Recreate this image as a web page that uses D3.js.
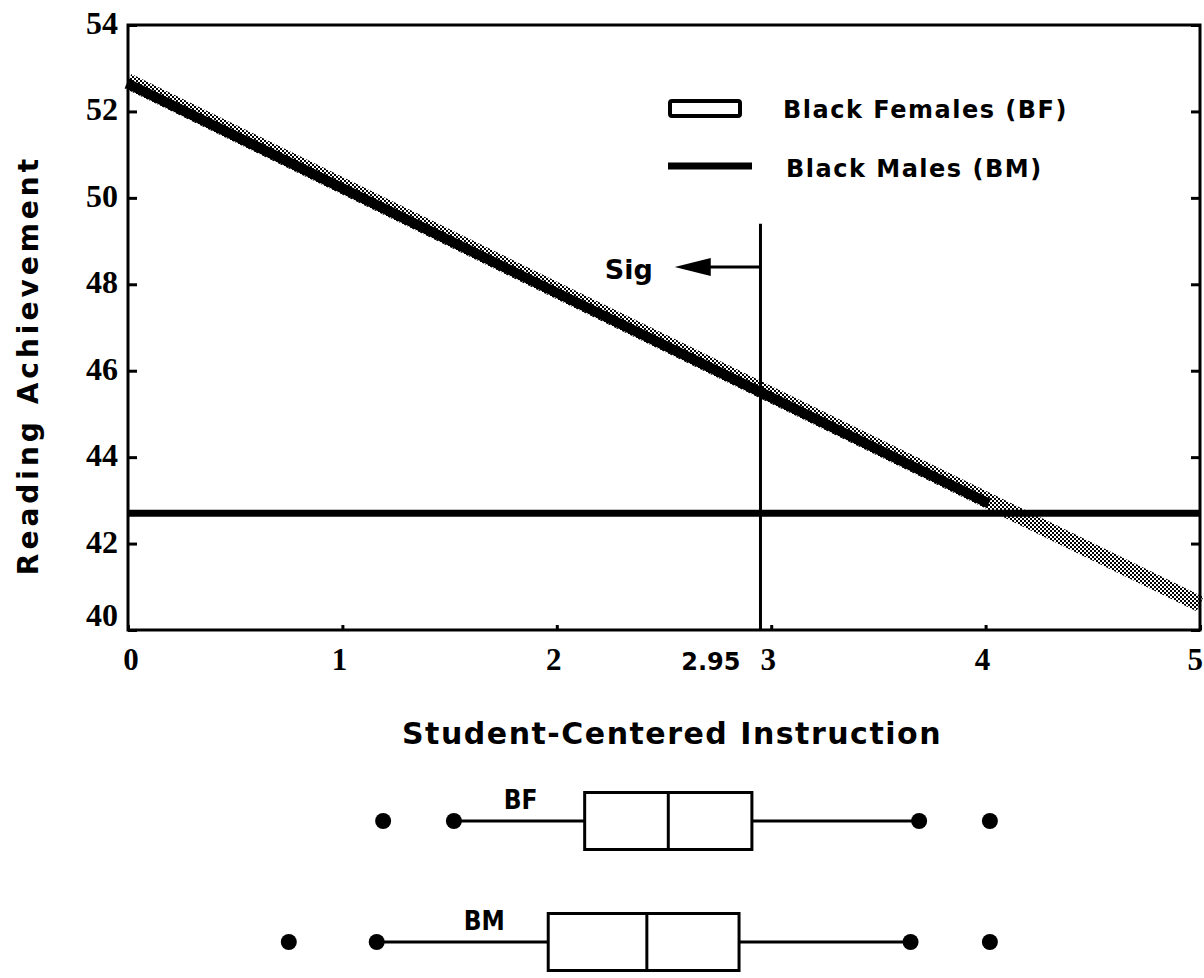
<!DOCTYPE html>
<html>
<head>
<meta charset="utf-8">
<script src="https://cdn.jsdelivr.net/npm/d3@7"></script>
<style>
  body { margin: 0; background: #fff; }
  svg { display: block; }
</style>
</head>
<body>
<script>
var xTicks = [0, 1, 2, 3, 4, 5];
var yTicks = [40, 42, 44, 46, 48, 50, 52, 54];
var bfLine = [{x: 0, y: 52.7}, {x: 5, y: 40.6}];
var bmLine = [{x: 0, y: 42.7}, {x: 5, y: 42.7}];
var sigX = 2.95,
    sigTop = 49.4,
    sigArrowY = 48.4,
    sigArrowTo = 2.55;

// box plots: outlierLo, whiskerLo, q1, median, q3, whiskerHi, outlierHi
var groups = ["BF", "BM"];
var boxStats = [
  [1.19, 1.52, 2.13, 2.52, 2.91, 3.69, 4.02],
  [0.75, 1.16, 1.96, 2.42, 2.85, 3.65, 4.02]
];

var width = 1204, height = 978;
var margin = {top: 25, right: 4, bottom: 348, left: 128};

var svg = d3.select('body')
            .append('svg')
            .attr('width', width)
            .attr('height', height);

var defs = svg.append('defs');
var pat = defs.append('pattern')
   .attr('id', 'stipple')
   .attr('width', 4).attr('height', 4)
   .attr('patternUnits', 'userSpaceOnUse');
pat.append('rect').attr('width', 2).attr('height', 2).attr('fill', '#000');
pat.append('rect').attr('x', 2).attr('y', 2).attr('width', 2).attr('height', 2).attr('fill', '#000');

var xScale = d3.scaleLinear()
               .domain([0, 5])
               .range([margin.left, width - margin.right]);

var yScale = d3.scaleLinear()
               .domain([40, 54])
               .range([height - margin.bottom, margin.top]);

var line = d3.line()
             .x(function(d){ return xScale(d.x); })
             .y(function(d){ return yScale(d.y); });

// frame
svg.append('rect')
   .attr('x', xScale(0)).attr('y', yScale(54))
   .attr('width', xScale(5) - xScale(0))
   .attr('height', yScale(40) - yScale(54))
   .attr('fill', 'none')
   .attr('stroke', '#000')
   .attr('stroke-width', 3);

// inward ticks
var yAxisL = d3.axisRight(yScale).tickValues(yTicks).tickSize(9).tickFormat('');
var yAxisR = d3.axisLeft(yScale).tickValues(yTicks).tickSize(9).tickFormat('');
var xAxisB = d3.axisTop(xScale).tickValues(xTicks).tickSize(5).tickFormat('');

svg.append('g').attr('transform', 'translate(' + xScale(0) + ',0)').call(yAxisL);
svg.append('g').attr('transform', 'translate(' + xScale(5) + ',0)').call(yAxisR);
svg.append('g').attr('transform', 'translate(0,' + yScale(40) + ')').call(xAxisB);
svg.selectAll('.domain').remove();
svg.selectAll('.tick line').attr('stroke', '#000').attr('stroke-width', 3);

// tick labels
svg.append('g').selectAll('text')
   .data(yTicks)
   .enter().append('text')
   .attr('x', xScale(0) - 10)
   .attr('y', function(d){ return yScale(d) + (d === 40 ? -4 : 9); })
   .attr('text-anchor', 'end')
   .attr('font-family', 'Liberation Serif')
   .attr('font-weight', 'bold')
   .attr('font-size', '32px')
   .text(function(d){ return d; });

svg.append('g').selectAll('text')
   .data(xTicks)
   .enter().append('text')
   .attr('x', function(d){ return d === 5 ? width - 1 : xScale(d) + (d === 0 ? 3 : -3); })
   .attr('y', yScale(40) + 40)
   .attr('text-anchor', function(d){ return d === 5 ? 'end' : 'middle'; })
   .attr('font-family', 'Liberation Serif')
   .attr('font-weight', 'bold')
   .attr('font-size', '31px')
   .text(function(d){ return d; });

svg.append('text')
   .attr('x', xScale(sigX) - 20)
   .attr('y', yScale(40) + 40)
   .attr('text-anchor', 'end')
   .attr('font-family', 'DejaVu Sans')
   .attr('font-weight', 'bold')
   .attr('font-size', '24px')
   .text('2.95');

// axis titles
svg.append('text')
   .attr('transform', 'translate(38,' + 365 + ') rotate(-90)')
   .attr('text-anchor', 'middle')
   .attr('font-family', 'DejaVu Sans')
   .attr('font-weight', 'bold')
   .attr('font-size', '28px')
   .attr('letter-spacing', '4px')
   .text('Reading Achievement');

svg.append('text')
   .attr('x', 672)
   .attr('y', 744)
   .attr('text-anchor', 'middle')
   .attr('font-family', 'DejaVu Sans')
   .attr('font-weight', 'bold')
   .attr('font-size', '30px')
   .attr('letter-spacing', '1.5px')
   .text('Student-Centered Instruction');

// Black Males line
svg.append('path')
   .datum(bmLine)
   .attr('d', line)
   .attr('fill', 'none')
   .attr('stroke', '#000')
   .attr('stroke-width', 7);

// Black Females band
svg.append('path')
   .datum(bfLine)
   .attr('d', line)
   .attr('fill', 'none')
   .attr('stroke', 'url(#stipple)')
   .attr('stroke-width', 16);

var tDark = 4.02;
var bfDark = [bfLine[0], {x: tDark, y: bfLine[0].y + (bfLine[1].y - bfLine[0].y) * tDark / 5}];
svg.append('path')
   .datum(bfDark)
   .attr('d', line)
   .attr('transform', 'translate(-1,2)')
   .attr('fill', 'none')
   .attr('stroke', '#000')
   .attr('stroke-width', 10);

// significance marker
svg.append('line')
   .attr('x1', xScale(sigX)).attr('x2', xScale(sigX))
   .attr('y1', yScale(sigTop)).attr('y2', yScale(40))
   .attr('stroke', '#000').attr('stroke-width', 3);

svg.append('line')
   .attr('x1', xScale(sigX)).attr('x2', xScale(sigArrowTo) + 20)
   .attr('y1', yScale(sigArrowY)).attr('y2', yScale(sigArrowY))
   .attr('stroke', '#000').attr('stroke-width', 3);

svg.append('path')
   .attr('d', d3.line()([
     [xScale(sigArrowTo), yScale(sigArrowY)],
     [xScale(sigArrowTo) + 36, yScale(sigArrowY) - 9],
     [xScale(sigArrowTo) + 36, yScale(sigArrowY) + 9]
   ]) + 'Z')
   .attr('fill', '#000');

svg.append('text')
   .attr('x', xScale(sigArrowTo) - 22)
   .attr('y', yScale(sigArrowY) + 12)
   .attr('text-anchor', 'end')
   .attr('font-family', 'DejaVu Sans')
   .attr('font-weight', 'bold')
   .attr('font-size', '27px')
   .text('Sig');

// legend
svg.append('rect')
   .attr('x', 670).attr('y', 101)
   .attr('width', 70).attr('height', 15)
   .attr('rx', 2)
   .attr('fill', '#fff')
   .attr('stroke', '#000')
   .attr('stroke-width', 4);

svg.append('line')
   .attr('x1', 668).attr('x2', 752)
   .attr('y1', 166).attr('y2', 166)
   .attr('stroke', '#000')
   .attr('stroke-width', 7);

svg.append('text')
   .attr('x', 783).attr('y', 118)
   .attr('font-family', 'DejaVu Sans')
   .attr('font-weight', 'bold')
   .attr('font-size', '24px')
   .attr('letter-spacing', '1.5px')
   .text('Black Females (BF)');

svg.append('text')
   .attr('x', 786).attr('y', 177)
   .attr('font-family', 'DejaVu Sans')
   .attr('font-weight', 'bold')
   .attr('font-size', '24px')
   .attr('letter-spacing', '1.5px')
   .text('Black Males (BM)');

// box plots
var rowY = d3.scalePoint().domain(groups).range([821, 942]);
var boxH = 57;

var boxes = svg.selectAll('g.box')
   .data(boxStats)
   .enter().append('g')
   .attr('class', 'box')
   .attr('transform', function(d, i){ return 'translate(0,' + rowY(groups[i]) + ')'; });

boxes.append('line')
   .attr('x1', function(d){ return xScale(d[1]); })
   .attr('x2', function(d){ return xScale(d[2]); })
   .attr('stroke', '#000').attr('stroke-width', 3);

boxes.append('line')
   .attr('x1', function(d){ return xScale(d[4]); })
   .attr('x2', function(d){ return xScale(d[5]); })
   .attr('stroke', '#000').attr('stroke-width', 3);

boxes.append('rect')
   .attr('x', function(d){ return xScale(d[2]); })
   .attr('y', -boxH / 2)
   .attr('width', function(d){ return xScale(d[4]) - xScale(d[2]); })
   .attr('height', boxH)
   .attr('fill', '#fff')
   .attr('stroke', '#000').attr('stroke-width', 3);

boxes.append('line')
   .attr('x1', function(d){ return xScale(d[3]); })
   .attr('x2', function(d){ return xScale(d[3]); })
   .attr('y1', -boxH / 2).attr('y2', boxH / 2)
   .attr('stroke', '#000').attr('stroke-width', 3);

boxes.selectAll('circle')
   .data(function(d){ return [d[0], d[1], d[5], d[6]]; })
   .enter().append('circle')
   .attr('cx', function(d){ return xScale(d); })
   .attr('r', 8)
   .attr('fill', '#000');

boxes.append('text')
   .attr('x', function(d){ return xScale(d[2]) - 64; })
   .attr('y', -12)
   .attr('text-anchor', 'middle')
   .attr('font-family', 'DejaVu Sans Condensed')
   .attr('font-weight', 'bold')
   .attr('font-size', '26px')
   .text(function(d, i){ return groups[i]; });
</script>
</body>
</html>
